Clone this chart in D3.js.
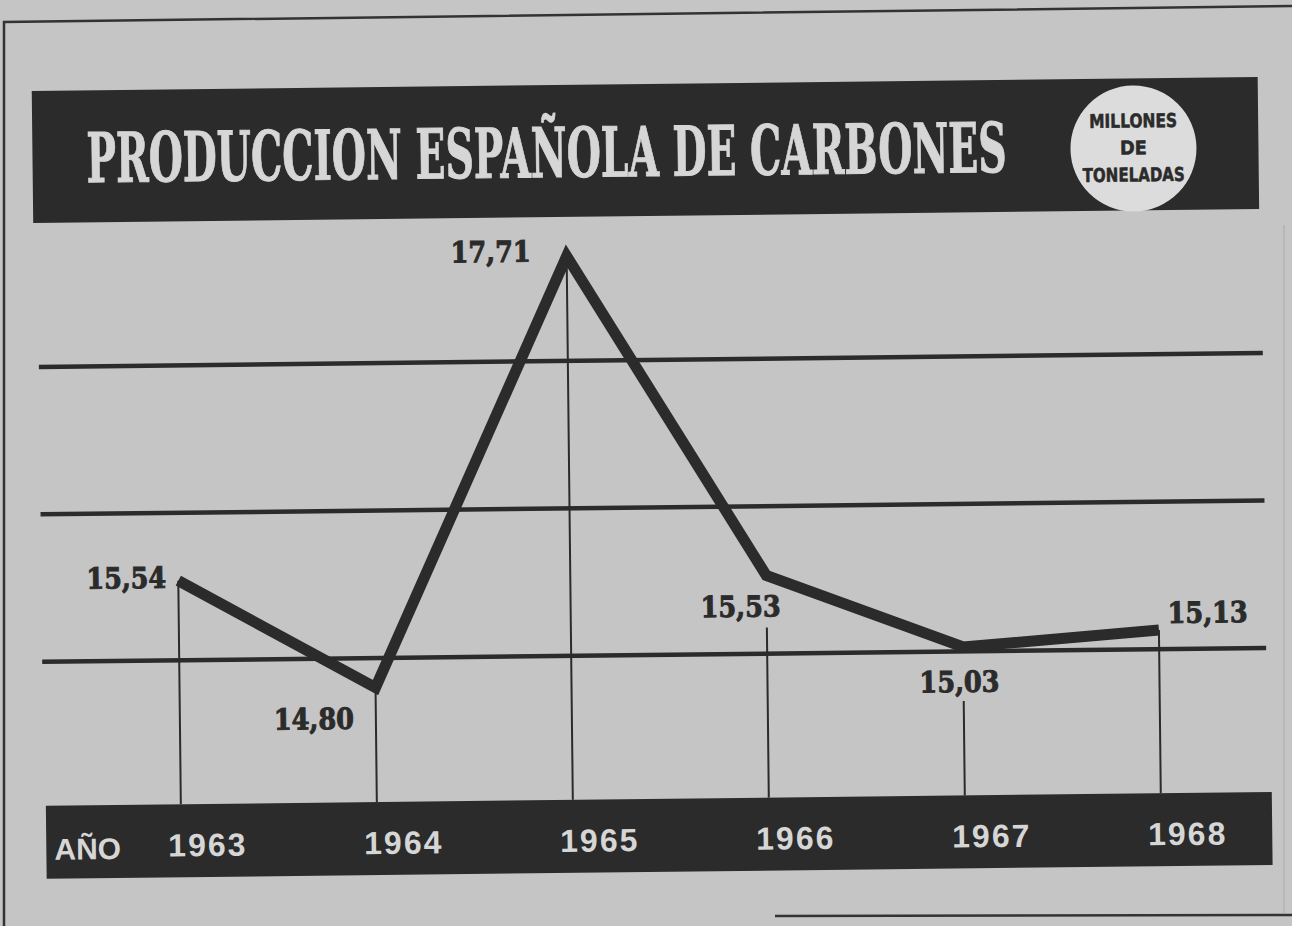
<!DOCTYPE html>
<html>
<head>
<meta charset="utf-8">
<script src="https://cdn.jsdelivr.net/npm/d3@7"></script>
<style>
  html, body { margin: 0; padding: 0; background: #c5c5c5; }
  svg { display: block; }
</style>
</head>
<body>
<div id="chart"></div>
<script>
// ---- data ----
const years = [1963, 1964, 1965, 1966, 1967, 1968];
const values = [15.54, 14.80, 17.71, 15.53, 15.03, 15.13];
const valueLabels = ["15,54", "14,80", "17,71", "15,53", "15,03", "15,13"];
const gridValues = [15, 16, 17];
const titleText = "PRODUCCION ESPAÑOLA DE CARBONES";
const unitLines = ["MILLONES", "DE", "TONELADAS"];
const axisWord = "AÑO";

// ---- layout ----
const W = 1292, H = 926;
const paper = "#c5c5c5", ink = "#2b2b2b", light = "#d6d6d6";
const labelLayout = [
  { anchor: "end", dx: -12, dy: -3 },
  { anchor: "end", dx: -22, dy: 31 },
  { anchor: "end", dx: -36, dy: -5 },
  { anchor: "middle", dx: -26, dy: 31 },
  { anchor: "middle", dx: -4, dy: 35 },
  { anchor: "start", dx: 9, dy: -17 }
];
const dropStart = [0, 0, 0, 52, 54, 0];

const svg = d3.select("#chart").append("svg")
  .attr("width", W).attr("height", H);

svg.append("rect").attr("width", W).attr("height", H).attr("fill", paper);

// frame lines of the newspaper page
svg.append("path").attr("d", "M4,926 L4,22 L1292,6")
  .attr("fill", "none").attr("stroke", "#333").attr("stroke-width", 2.5);
svg.append("line").attr("x1", 775).attr("x2", 1292).attr("y1", 916).attr("y2", 915)
  .attr("stroke", "#333").attr("stroke-width", 2.5);
svg.append("line").attr("x1", 1284).attr("x2", 1284).attr("y1", 225).attr("y2", 914)
  .attr("stroke", "#aaa").attr("stroke-width", 1);

const g = svg.append("g").attr("transform", "rotate(-0.65,646,463)");

const x = d3.scaleLinear().domain([1963, 1968]).range([177, 1157]);
const y = d3.scaleLinear().domain([15, 17]).range([655, 360]);

// title band
g.append("rect").attr("x", 36).attr("y", 84).attr("width", 1226).attr("height", 132).attr("fill", ink);
g.append("text")
  .attr("transform", "translate(90,176) scale(1,1.72)")
  .attr("x", 0).attr("y", 0)
  .attr("font-family", "'DejaVu Serif', serif")
  .attr("font-weight", "bold").attr("font-size", 40)
  .attr("fill", light)
  .attr("stroke", light).attr("stroke-width", 0.6)
  .attr("textLength", 920).attr("lengthAdjust", "spacingAndGlyphs")
  .text(titleText);

// unit circle
g.append("circle").attr("cx", 1137).attr("cy", 154).attr("r", 63).attr("fill", "#dcdcdc");
const unitY = [126, 153, 180];
const unitW = [88, 27, 102];
g.selectAll("text.unit").data(unitLines).join("text")
  .attr("class", "unit")
  .attr("x", 1137).attr("y", (d, i) => unitY[i])
  .attr("text-anchor", "middle").attr("dominant-baseline", "central")
  .attr("font-family", "'DejaVu Sans Condensed', 'DejaVu Sans', sans-serif")
  .attr("font-weight", "bold").attr("font-size", 19)
  .attr("fill", ink).attr("stroke", ink).attr("stroke-width", 0.5)
  .attr("textLength", (d, i) => unitW[i]).attr("lengthAdjust", "spacingAndGlyphs")
  .text(d => d);

// gridlines
g.selectAll("line.grid").data(gridValues).join("line")
  .attr("class", "grid")
  .attr("x1", 40).attr("x2", 1264)
  .attr("y1", d => y(d)).attr("y2", d => y(d))
  .attr("stroke", ink).attr("stroke-width", 4.5);

// bottom band
const bandTop = 799, bandBottom = 872;
g.append("rect").attr("x", 42).attr("y", bandTop).attr("width", 1226).attr("height", bandBottom - bandTop).attr("fill", ink);

// drop lines
g.selectAll("line.drop").data(years).join("line")
  .attr("class", "drop")
  .attr("x1", d => x(d)).attr("x2", d => x(d))
  .attr("y1", (d, i) => y(values[i]) + dropStart[i])
  .attr("y2", bandTop)
  .attr("stroke", ink).attr("stroke-width", 2);

// data line
const line = d3.line().x((d, i) => x(years[i])).y(d => y(d));
g.append("path").datum(values)
  .attr("d", line)
  .attr("fill", "none").attr("stroke", ink)
  .attr("stroke-width", 11).attr("stroke-linejoin", "miter").attr("stroke-miterlimit", 10);

// value labels
g.selectAll("text.val").data(valueLabels).join("text")
  .attr("class", "val")
  .attr("x", (d, i) => x(years[i]) + labelLayout[i].dx)
  .attr("y", (d, i) => y(values[i]) + labelLayout[i].dy)
  .attr("text-anchor", (d, i) => labelLayout[i].anchor)
  .attr("dominant-baseline", "central")
  .attr("font-family", "'DejaVu Serif', serif").attr("font-weight", "bold")
  .attr("font-size", 29).attr("fill", ink)
  .attr("stroke", ink).attr("stroke-width", 1)
  .attr("textLength", 80).attr("lengthAdjust", "spacingAndGlyphs")
  .text(d => d);

// year axis
const axis = d3.axisBottom(x).tickValues(years).tickFormat(d3.format("d")).tickSize(0).tickPadding(0);
const ag = g.append("g").attr("transform", `translate(26,${851})`).call(axis);
ag.select(".domain").remove();
ag.selectAll("text")
  .attr("dy", null).attr("y", 0)
  .attr("font-family", "'Liberation Sans', Arial, sans-serif").attr("font-weight", "bold")
  .attr("font-size", 32).attr("letter-spacing", 2).attr("fill", light);

g.append("text").attr("x", 50).attr("y", 853)
  .attr("font-family", "'Liberation Sans', Arial, sans-serif").attr("font-weight", "bold")
  .attr("font-size", 30).attr("fill", light)
  .text(axisWord);
</script>
</body>
</html>
